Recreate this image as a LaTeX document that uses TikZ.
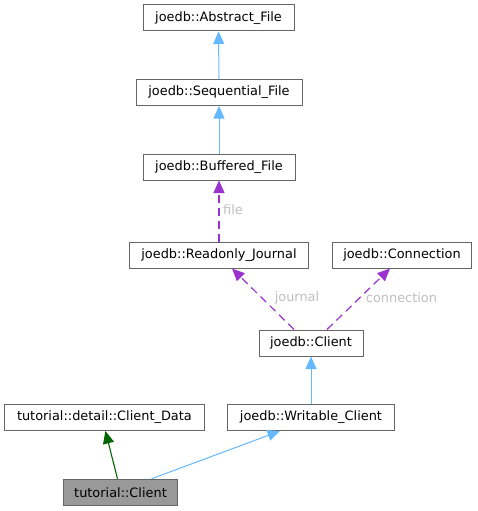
\documentclass[tikz,border=0pt]{standalone}
\usepackage{fontspec}
\setmainfont{DejaVu Sans}
\usetikzlibrary{arrows.meta}
\definecolor{boxline}{HTML}{666666}
\definecolor{inherit}{HTML}{63B8FF}
\definecolor{usage}{HTML}{9A32CD}
\definecolor{privinh}{HTML}{006400}
\definecolor{edgelabel}{HTML}{BEBEBE}
\definecolor{current}{HTML}{999999}
\tikzset{
  classbox/.style={draw=boxline,line width=1pt,fill=white,inner sep=0pt,minimum height=26pt,font=\fontsize{12.9}{15}\selectfont},
  herit/.style={draw=inherit,line width=1pt,-{Triangle[length=12.5pt,width=11pt]}},
  uses/.style={draw=usage,line width=1.2pt,dash pattern=on 8pt off 5pt,-{Triangle[length=12.5pt,width=11pt]}},
  privherit/.style={draw=privinh,line width=1.1pt,-{Triangle[length=12.5pt,width=11pt]}},
  elabel/.style={text=edgelabel,font=\fontsize{12.9}{15}\selectfont,inner sep=0pt}
}
\begin{document}
\begin{tikzpicture}[x=1pt,y=-1pt]
  \useasboundingbox(0,0) rectangle (477,511);
  \node[classbox,minimum width=151pt](abstract) at (218.5,18){joedb::Abstract\_File};
  \node[classbox,minimum width=166pt](sequential) at (219,92.5){joedb::Sequential\_File};
  \node[classbox,minimum width=152pt](buffered) at (219,167){joedb::Buffered\_File};
  \node[classbox,minimum width=179pt](readonly) at (219,255){joedb::Readonly\_Journal};
  \node[classbox,minimum width=139.5pt](connection) at (402,255){joedb::Connection};
  \node[classbox,minimum width=104pt](client) at (311,343){joedb::Client};
  \node[classbox,minimum width=199.5pt](clientdata) at (104.4,417.5){tutorial::detail::Client\_Data};
  \node[classbox,minimum width=166.6pt](writable) at (311,417.5){joedb::Writable\_Client};
  \node[classbox,minimum width=114.4pt,fill=current](tutclient) at (120.5,492.3){tutorial::Client};
  \draw[herit](sequential)--(abstract);
  \draw[herit](buffered)--(sequential);
  \draw[uses](readonly)--(buffered);
  \draw[uses]([xshift=-17pt]client.north)--([xshift=13pt]readonly.south);
  \draw[uses]([xshift=16pt]client.north)--([xshift=-12pt]connection.south);
  \draw[herit](writable)--(client);
  \draw[privherit]([xshift=-3pt]tutclient.north)--([xshift=1pt]clientdata.south);
  \draw[herit]([xshift=31pt]tutclient.north)--([xshift=-31pt]writable.south);
  \node[elabel,anchor=west](filelbl) at (223,210){file};
  \node[elabel](journallbl) at (297,298){journal};
  \node[elabel](connlbl) at (401.5,298){connection};
\end{tikzpicture}
\end{document}
